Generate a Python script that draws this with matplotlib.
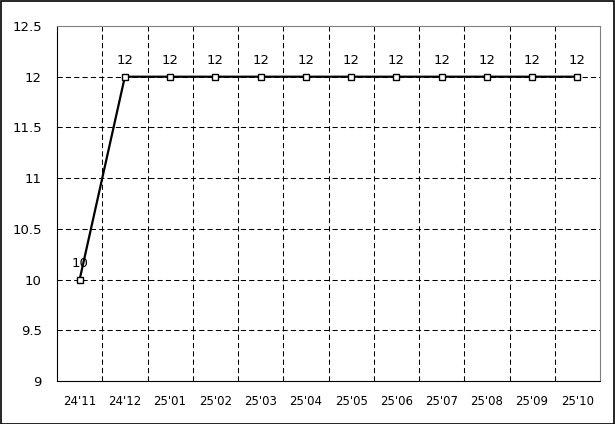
import matplotlib.pyplot as plt
from matplotlib.patches import Rectangle

months = ["24'11", "24'12", "25'01", "25'02", "25'03", "25'04",
          "25'05", "25'06", "25'07", "25'08", "25'09", "25'10"]
values = [10, 12, 12, 12, 12, 12, 12, 12, 12, 12, 12, 12]
y_ticks = [9, 9.5, 10, 10.5, 11, 11.5, 12, 12.5]

fig = plt.figure(figsize=(6.15, 4.24), dpi=100)
ax = fig.add_axes([57 / 615, 1 - 381 / 424, 543 / 615, 355 / 424])

x = list(range(len(months)))
ax.plot(x, values, color='black', linewidth=1.6, marker='s', markersize=4.5,
        markerfacecolor='white', markeredgecolor='black', markeredgewidth=1, zorder=3)
for xi, v in zip(x, values):
    ax.annotate(str(v), (xi, v), xytext=(0, 7), textcoords='offset points',
                ha='center', va='bottom', fontsize=9.5)

ax.set_xlim(-0.5, len(months) - 0.5)
ax.set_ylim(9, 12.5)
ax.set_yticks(y_ticks)
ax.set_yticklabels([f'{t:g}' for t in y_ticks], fontsize=9.5)
ax.set_xticks(x)
ax.set_xticklabels(months, fontsize=8.5)
ax.tick_params(length=0, pad=10)
ax.tick_params(axis='y', pad=11)

# vertical grid lines between categories
for b in range(1, len(months)):
    ax.axvline(b - 0.5, color='black', linestyle=(0, (5, 3)), linewidth=0.75, zorder=1)
for t in y_ticks[1:-1]:
    ax.axhline(t, color='black', linestyle=(0, (5, 3)), linewidth=0.75, zorder=1)

ax.spines['top'].set_color('#808080')
ax.spines['right'].set_color('#808080')
ax.spines['left'].set_color('black')
ax.spines['bottom'].set_color('black')

fig.patches.append(Rectangle((0.001, 0.001), 0.997, 0.997, transform=fig.transFigure,
                             fill=False, edgecolor='black', linewidth=1.2))

fig.savefig('out.png', dpi=100)
